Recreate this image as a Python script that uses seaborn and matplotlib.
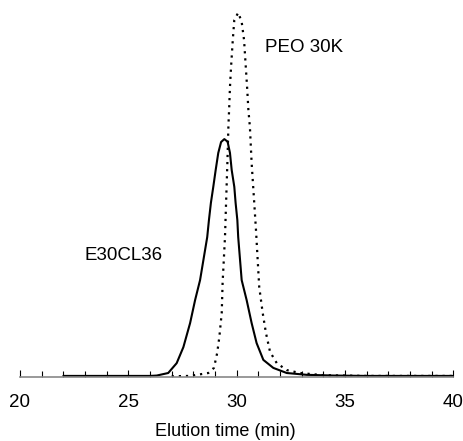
import matplotlib
matplotlib.use("Agg")
import matplotlib.pyplot as plt
from matplotlib.ticker import MultipleLocator
import seaborn as sns
import pandas as pd

# E30CL36 (solid) trace
solid_x = [22.0, 24.0, 26.0, 26.31, 26.84, 27.23, 27.54, 27.85, 28.08, 28.31, 28.64, 28.72, 28.81,
           28.92, 29.03, 29.15, 29.28, 29.43, 29.58, 29.69, 29.77, 29.89, 29.95, 30.03, 30.07,
           30.23, 30.46, 30.69, 30.92, 31.23, 31.69, 32.31, 33.23, 34.5, 36.0, 38.0, 40.0]
solid_y = [0.003, 0.003, 0.003, 0.004, 0.011, 0.038, 0.082, 0.148, 0.211, 0.266, 0.384, 0.431, 0.478,
           0.522, 0.568, 0.615, 0.645, 0.653, 0.646, 0.615, 0.568, 0.522, 0.478, 0.431, 0.384,
           0.266, 0.211, 0.148, 0.093, 0.047, 0.025, 0.011, 0.006, 0.004, 0.003, 0.003, 0.003]

# PEO 30K (dotted) trace
dot_x = [27.0, 27.85, 28.69, 28.95, 29.10, 29.20, 29.31, 29.35, 29.46, 29.51, 29.57, 29.62, 29.65,
         29.69, 29.74, 29.82, 29.89, 30.07, 30.23, 30.34, 30.42, 30.48, 30.54, 30.61, 30.69,
         30.81, 30.89, 31.04, 31.20, 31.35, 31.54, 31.85, 32.31, 32.92, 34.0, 36.0, 38.0, 40.0]
dot_y = [0.002, 0.003, 0.011, 0.025, 0.066, 0.110, 0.176, 0.258, 0.384, 0.478, 0.587, 0.692, 0.733,
         0.796, 0.851, 0.925, 0.980, 1.0, 0.975, 0.925, 0.851, 0.796, 0.733, 0.686, 0.587,
         0.478, 0.404, 0.247, 0.176, 0.121, 0.069, 0.038, 0.019, 0.011, 0.005, 0.003, 0.003, 0.003]

labels = ["E30CL36", "PEO 30K"]

sns.set_theme(style="white")
plt.rcParams["font.family"] = ["Liberation Sans", "DejaVu Sans"]

df_s = pd.DataFrame({"t": solid_x, "y": solid_y})
df_d = pd.DataFrame({"t": dot_x, "y": dot_y})

fig = plt.figure(figsize=(4.64, 4.41), dpi=100)
ax = fig.add_axes([0.0431, 0.1451, 0.934, 0.8368])

sns.lineplot(data=df_s, x="t", y="y", ax=ax, color="black", lw=1.5, linestyle="-")
sns.lineplot(data=df_d, x="t", y="y", ax=ax, color="black", lw=1.6, linestyle=(0, (1, 2.2)))

ax.set_xlim(20, 40)
ax.set_ylim(0, 1.0129)
ax.set_yticks([])
ax.set_ylabel("")
ax.set_xlabel("Elution time (min)", fontsize=13, color="black")
ax.xaxis.set_label_coords(0.473, -0.125)

for s in ["left", "right", "top"]:
    ax.spines[s].set_visible(False)
ax.spines["bottom"].set_color("#888888")
ax.spines["bottom"].set_linewidth(1.2)

ax.xaxis.set_major_locator(MultipleLocator(5))
ax.xaxis.set_minor_locator(MultipleLocator(1))
ax.tick_params(axis="x", which="major", direction="in", length=5, width=0.8, color="black",
               labelsize=13.5, labelcolor="black", pad=12, bottom=True)
ax.tick_params(axis="x", which="minor", direction="in", length=4, width=0.8, color="black", bottom=True)

ax.text(31.3, 0.904, labels[1], fontsize=13.5, ha="left", va="center", color="black")
ax.text(24.8, 0.334, labels[0], fontsize=13.5, ha="center", va="center", color="black")

fig.savefig("out.png", dpi=100)
